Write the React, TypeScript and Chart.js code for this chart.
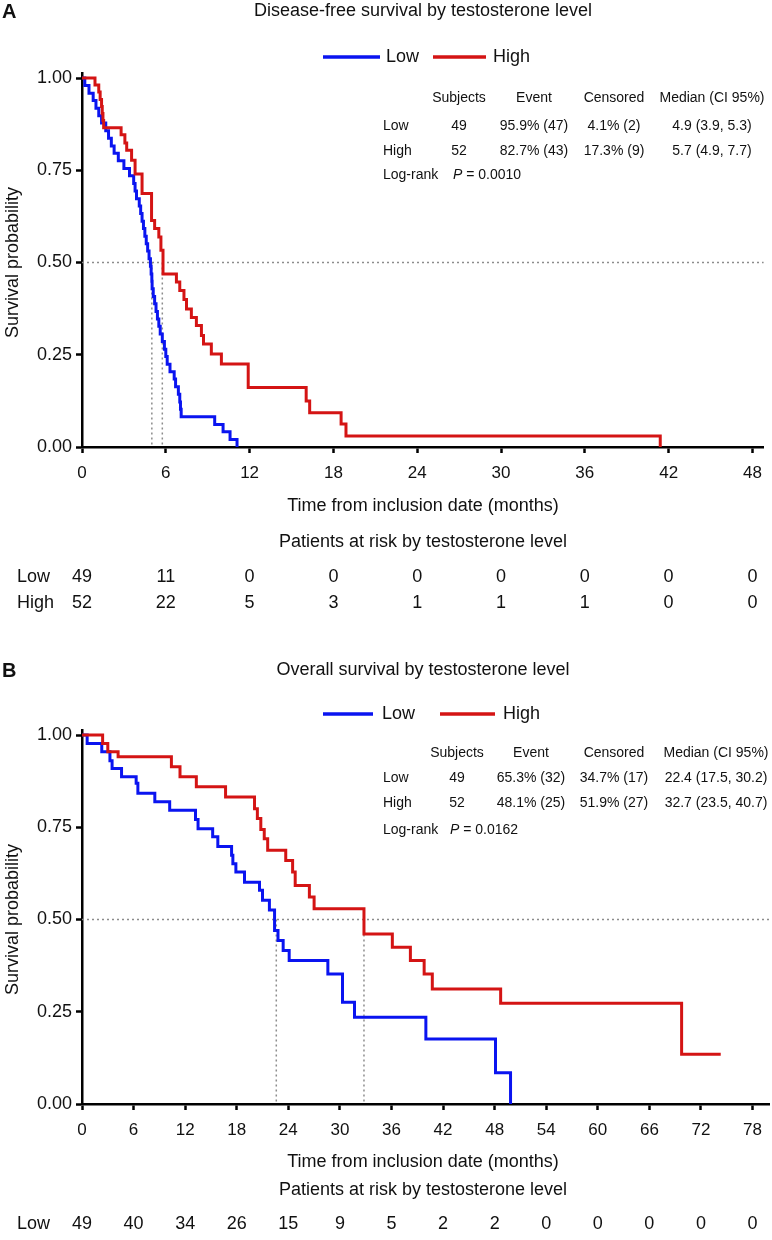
import React, { useEffect, useRef } from "react";
import { Chart, registerables } from "chart.js";

Chart.register(...registerables);

// ---------------- DATA ----------------
// Panel A: disease-free survival (time in months, survival probability)
const lowA_t = [0, 0.2, 0.5, 0.8, 1.0, 1.2, 1.4, 1.7, 1.9, 2.1, 2.3, 2.6, 3.0, 3.4, 3.7, 3.8, 3.9, 4.1, 4.2, 4.3, 4.4, 4.5, 4.6, 4.7, 4.8, 4.9, 4.95, 5.0, 5.02, 5.1, 5.2, 5.3, 5.4, 5.5, 5.6, 5.75, 5.9, 6.0, 6.1, 6.3, 6.6, 6.7, 6.9, 7.0, 7.05, 7.1, 9.5, 10.1, 10.6, 11.1];
const lowA_s = [1.0, 0.98, 0.959, 0.939, 0.918, 0.898, 0.878, 0.857, 0.837, 0.816, 0.796, 0.776, 0.755, 0.735, 0.714, 0.694, 0.673, 0.653, 0.633, 0.612, 0.592, 0.571, 0.551, 0.531, 0.51, 0.49, 0.469, 0.449, 0.429, 0.408, 0.388, 0.367, 0.347, 0.327, 0.306, 0.286, 0.265, 0.245, 0.224, 0.204, 0.184, 0.163, 0.143, 0.122, 0.102, 0.082, 0.061, 0.041, 0.02, 0];
const highA_t = [0, 0.93, 1.2, 1.3, 1.4, 1.45, 1.5, 1.55, 2.8, 3.07, 3.2, 3.55, 3.8, 4.3, 4.98, 5.2, 5.5, 5.65, 5.8, 6.76, 7.0, 7.3, 7.48, 7.83, 8.19, 8.55, 8.7, 9.26, 9.98, 11.9, 16.05, 16.3, 18.55, 18.9, 41.4];
const highA_s = [1, 0.981, 0.962, 0.942, 0.923, 0.904, 0.885, 0.865, 0.846, 0.824, 0.804, 0.777, 0.74, 0.687, 0.614, 0.592, 0.569, 0.533, 0.469, 0.447, 0.424, 0.4, 0.374, 0.351, 0.329, 0.302, 0.279, 0.252, 0.225, 0.161, 0.125, 0.093, 0.062, 0.03, 0];

// Panel B: overall survival
const lowB_t = [0, 0.6, 2.3, 3.25, 3.5, 4.6, 6.3, 6.5, 8.47, 10.2, 13.2, 13.5, 15.2, 15.8, 17.4, 17.55, 17.9, 18.9, 20.65, 21.0, 21.8, 22.4, 22.8, 23.4, 24.1, 28.6, 30.3, 31.7, 40.0, 48.1, 49.85];
const lowB_s = [1, 0.977, 0.955, 0.93, 0.909, 0.887, 0.869, 0.842, 0.819, 0.796, 0.771, 0.746, 0.724, 0.698, 0.674, 0.651, 0.629, 0.601, 0.579, 0.552, 0.526, 0.47, 0.443, 0.416, 0.389, 0.352, 0.276, 0.235, 0.176, 0.085, 0];
const highB_t = [0, 2.4, 3.0, 4.2, 10.4, 11.4, 13.3, 16.7, 20.07, 20.4, 20.8, 21.2, 21.6, 23.7, 24.5, 24.8, 26.45, 27.0, 32.8, 36.1, 38.2, 39.8, 40.75, 48.7, 69.75, 74.3];
const highB_s = [1, 0.977, 0.955, 0.941, 0.914, 0.887, 0.86, 0.832, 0.8, 0.774, 0.744, 0.719, 0.688, 0.66, 0.629, 0.592, 0.561, 0.529, 0.461, 0.425, 0.389, 0.352, 0.312, 0.273, 0.135, 0.135];

const xTicksA = [0, 6, 12, 18, 24, 30, 36, 42, 48];
const xTicksB = [0, 6, 12, 18, 24, 30, 36, 42, 48, 54, 60, 66, 72, 78];
const yTicks = [0, 0.25, 0.5, 0.75, 1];

const riskLowA = [49, 11, 0, 0, 0, 0, 0, 0, 0];
const riskHighA = [52, 22, 5, 3, 1, 1, 1, 0, 0];
const riskLowB = [49, 40, 34, 26, 15, 9, 5, 2, 2, 0, 0, 0, 0, 0];

const medianLinesA = [5.0, 5.75];
const medianLinesB = [22.6, 32.8];

const tableHeader = ["Subjects", "Event", "Censored", "Median (CI 95%)"];
const tableRowsA = [
  ["Low", "49", "95.9% (47)", "4.1% (2)", "4.9 (3.9, 5.3)"],
  ["High", "52", "82.7% (43)", "17.3% (9)", "5.7 (4.9, 7.7)"],
];
const tableRowsB = [
  ["Low", "49", "65.3% (32)", "34.7% (17)", "22.4 (17.5, 30.2)"],
  ["High", "52", "48.1% (25)", "51.9% (27)", "32.7 (23.5, 40.7)"],
];
const pValueA = "0.0010";
const pValueB = "0.0162";

// ---------------- STYLE ----------------
const FONT = '"Liberation Sans", Arial, Helvetica, sans-serif';
const BLUE = "#0a14f0";
const RED = "#d41414";
const TEXT = "#111";

function txt(ctx: CanvasRenderingContext2D, s: string, x: number, y: number, size: number, align: CanvasTextAlign = "left", weight = "normal", style = "normal") {
  ctx.font = `${style} ${weight} ${size}px ${FONT}`;
  ctx.textAlign = align;
  ctx.textBaseline = "middle";
  ctx.fillStyle = TEXT;
  ctx.fillText(s, x, y);
}

function seg(ctx: CanvasRenderingContext2D, x1: number, y1: number, x2: number, y2: number, color: string, w: number) {
  ctx.beginPath();
  ctx.strokeStyle = color;
  ctx.lineWidth = w;
  ctx.moveTo(x1, y1);
  ctx.lineTo(x2, y2);
  ctx.stroke();
}

const toPts = (t: number[], s: number[]) => t.map((x, i) => ({ x, y: s[i] }));

function makeConfig(spec: any) {
  const annot = {
    id: "annot" + spec.letter,
    beforeDatasetsDraw(chart: any) {
      const ctx = chart.ctx as CanvasRenderingContext2D;
      const xs = chart.scales.x;
      const ys = chart.scales.y;
      ctx.save();
      ctx.setLineDash([2, 3]);
      const yh = ys.getPixelForValue(0.5);
      seg(ctx, xs.left, yh, xs.right, yh, "#8c8c8c", 1.5);
      spec.medians.forEach((m: number) => {
        const x = xs.getPixelForValue(m);
        seg(ctx, x, yh, x, ys.getPixelForValue(0), "#8c8c8c", 1.5);
      });
      ctx.restore();
    },
    afterDraw(chart: any) {
      const ctx = chart.ctx as CanvasRenderingContext2D;
      const xs = chart.scales.x;
      const ys = chart.scales.y;
      const L = spec.layout;
      ctx.save();
      txt(ctx, spec.letter, 2, L.titleY + 1, 20, "left", "bold");
      txt(ctx, spec.title, 423, L.titleY, 18, "center");
      // legend
      seg(ctx, L.lowLine[0], L.legendY, L.lowLine[1], L.legendY, BLUE, 3.5);
      txt(ctx, "Low", L.lowText, L.legendY, 18);
      seg(ctx, L.highLine[0], L.legendY, L.highLine[1], L.legendY, RED, 3.5);
      txt(ctx, "High", L.highText, L.legendY, 18);
      // summary table
      tableHeader.forEach((h, i) => txt(ctx, h, L.colX[i + 1], L.tableY[0], 14, "center"));
      spec.rows.forEach((r: string[], ri: number) => {
        r.forEach((c, ci) => {
          if (ci === 0) txt(ctx, c, L.colX[0], L.tableY[ri + 1], 14, "left");
          else txt(ctx, c, L.colX[ci], L.tableY[ri + 1], 14, "center");
        });
      });
      const ly = L.tableY[3];
      txt(ctx, "Log-rank", L.colX[0], ly, 14, "left");
      const px = L.pX;
      txt(ctx, "P", px, ly, 14, "left", "normal", "italic");
      ctx.font = `italic normal 14px ${FONT}`;
      const pw = ctx.measureText("P").width;
      txt(ctx, " = " + spec.p, px + pw, ly, 14, "left");
      // y title
      ctx.save();
      ctx.translate(13, (ys.getPixelForValue(0) + ys.getPixelForValue(1)) / 2);
      ctx.rotate(-Math.PI / 2);
      txt(ctx, "Survival probability", 0, 0, 18, "center");
      ctx.restore();
      // x title and risk table
      txt(ctx, "Time from inclusion date (months)", 423, L.xTitleY, 18, "center");
      txt(ctx, "Patients at risk by testosterone level", 423, L.riskTitleY, 18, "center");
      spec.risk.forEach((row: any, i: number) => {
        const y = L.riskRowsY[i];
        txt(ctx, row.label, 17, y, 18, "left");
        row.values.forEach((v: number, j: number) => {
          txt(ctx, String(v), xs.getPixelForValue(spec.xTicks[j]), y, 18, "center");
        });
      });
      ctx.restore();
    },
  };

  const tickFont = { family: FONT, size: 17 };
  return {
    type: "line",
    data: {
      datasets: [
        { label: "High", data: toPts(spec.highT, spec.highS), borderColor: RED, borderWidth: 3, stepped: "before", pointRadius: 0, fill: false, order: 0 },
        { label: "Low", data: toPts(spec.lowT, spec.lowS), borderColor: BLUE, borderWidth: 3, stepped: "before", pointRadius: 0, fill: false, order: 1 },
      ],
    },
    options: {
      responsive: false,
      animation: false,
      devicePixelRatio: 1,
      events: [],
      layout: { padding: { left: 0, top: spec.padTop, right: spec.padRight, bottom: spec.padBottom } },
      plugins: { legend: { display: false }, tooltip: { enabled: false }, title: { display: false } },
      scales: {
        x: {
          type: "linear",
          min: 0,
          max: spec.xMax,
          afterBuildTicks: (s: any) => { s.ticks = spec.xTicks.map((v: number) => ({ value: v })); },
          afterFit: (s: any) => { s.height = 40; },
          ticks: { font: tickFont, color: TEXT, padding: 10, maxRotation: 0, autoSkip: false, callback: (v: any) => String(v) },
          grid: { drawOnChartArea: false, drawTicks: true, tickLength: 6, tickWidth: 2.5, tickColor: "#000" },
          border: { display: true, color: "#000", width: 2.5 },
        },
        y: {
          type: "linear",
          min: 0,
          max: 1.012,
          afterBuildTicks: (s: any) => { s.ticks = yTicks.map((v) => ({ value: v })); },
          afterFit: (s: any) => { s.width = 82; },
          ticks: { font: { family: FONT, size: 18 }, color: TEXT, padding: 4, callback: (v: any) => Number(v).toFixed(2) },
          grid: { drawOnChartArea: false, drawTicks: true, tickLength: 6, tickWidth: 2.5, tickColor: "#000" },
          border: { display: true, color: "#000", width: 2.5 },
        },
      },
    },
    plugins: [annot],
  };
}

const specA = {
  letter: "A",
  title: "Disease-free survival by testosterone level",
  lowT: lowA_t, lowS: lowA_s, highT: highA_t, highS: highA_s,
  xTicks: xTicksA, xMax: 48.8,
  medians: medianLinesA,
  rows: tableRowsA, p: pValueA,
  risk: [{ label: "Low", values: riskLowA }, { label: "High", values: riskHighA }],
  padTop: 73.6, padRight: 6.8, padBottom: 153,
  layout: {
    titleY: 11, legendY: 57,
    lowLine: [323, 380], lowText: 386, highLine: [433, 486], highText: 493,
    tableY: [98, 126, 151, 175], colX: [383, 459, 534, 614, 712], pX: 453,
    xTitleY: 506, riskTitleY: 542, riskRowsY: [577, 603],
  },
};

const specB = {
  letter: "B",
  title: "Overall survival by testosterone level",
  lowT: lowB_t, lowS: lowB_s, highT: highB_t, highS: highB_s,
  xTicks: xTicksB, xMax: 80,
  medians: medianLinesB,
  rows: tableRowsB, p: pValueB,
  risk: [{ label: "Low", values: riskLowB }],
  padTop: 90.6, padRight: 0.4, padBottom: 96,
  layout: {
    titleY: 30, legendY: 74,
    lowLine: [323, 373], lowText: 382, highLine: [440, 495], highText: 503,
    tableY: [113, 138, 163, 190], colX: [383, 457, 531, 614, 716], pX: 450,
    xTitleY: 522, riskTitleY: 550, riskRowsY: [584],
  },
};

export default function App() {
  const refA = useRef<HTMLCanvasElement>(null);
  const refB = useRef<HTMLCanvasElement>(null);
  useEffect(() => {
    document.body.style.margin = "0";
    const a = new Chart(refA.current as HTMLCanvasElement, makeConfig(specA) as any);
    const b = new Chart(refB.current as HTMLCanvasElement, makeConfig(specB) as any);
    return () => {
      a.destroy();
      b.destroy();
    };
  }, []);
  return (
    <div style={{ position: "relative", width: 772, height: 1240, overflow: "hidden", background: "#fff" }}>
      <canvas ref={refA} width={772} height={640} style={{ position: "absolute", left: 0, top: 0, width: 772, height: 640 }} />
      <canvas ref={refB} width={772} height={600} style={{ position: "absolute", left: 0, top: 640, width: 772, height: 600 }} />
    </div>
  );
}
